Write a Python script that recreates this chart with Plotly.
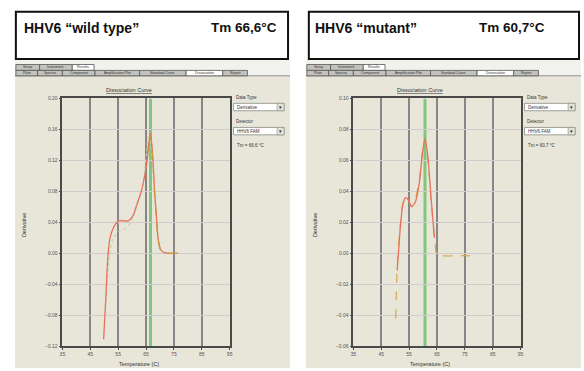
import plotly.graph_objects as go

W, H = 584, 371

# ---- melt-curve data (temperature in °C, derivative -dF/dT) ----
wt_temp = [49.8, 50.6, 51.3, 52.1, 53.3, 55.1, 57.0, 58.7, 60.4, 61.6, 63.4, 64.8,
           65.5, 66.1, 66.6, 67.1, 67.6, 68.1, 68.7, 69.3, 70.2, 71.6, 74.0, 76.4]
wt_well_a = [-0.111, -0.056, -0.005, 0.020, 0.033, 0.042, 0.042, 0.042, 0.049, 0.062,
             0.081, 0.106, 0.123, 0.145, 0.155, 0.140, 0.113, 0.079, 0.049, 0.020,
             0.005, 0.001, 0.000, 0.000]
wt_well_b = [-0.108, -0.054, -0.006, 0.018, 0.031, 0.040, 0.041, 0.043, 0.050, 0.063,
             0.083, 0.108, 0.126, 0.148, 0.152, 0.137, 0.110, 0.077, 0.047, 0.019,
             0.005, 0.001, 0.000, 0.000]
wt_temp_c = [50.5, 51.2, 52.0, 53.0, 55.1, 57.5, 59.5, 61.0, 62.5, 64.0, 65.2, 65.8,
             66.4, 67.2, 68.0, 68.8, 69.6, 70.5, 72.0, 74.0]
wt_well_c = [-0.070, -0.030, 0.000, 0.018, 0.028, 0.032, 0.040, 0.054, 0.070, 0.092,
             0.130, 0.150, 0.148, 0.120, 0.080, 0.045, 0.015, 0.004, 0.001, 0.000]

mt_temp = [50.2, 50.4, 50.7, 51.3, 51.9, 52.7, 53.7, 54.6, 55.8, 57.2, 58.7, 59.8,
           60.7, 61.7, 62.9, 64.1, 64.9, 65.5, 67.0, 69.0, 71.0, 73.0, 75.0, 76.8]
mt_well_a = [-0.043, -0.028, -0.011, 0.004, 0.018, 0.031, 0.036, 0.035, 0.030, 0.033,
             0.046, 0.065, 0.074, 0.063, 0.035, 0.010, -0.001, -0.002, -0.0015, -0.0018,
             -0.0014, -0.0017, -0.0015, -0.0016]
mt_well_b = [-0.042, -0.027, -0.010, 0.006, 0.020, 0.032, 0.037, 0.035, 0.031, 0.035,
             0.048, 0.066, 0.073, 0.061, 0.034, 0.009, -0.001, -0.002, -0.0016, -0.0017,
             -0.0015, -0.0016, -0.0014, -0.0016]

tm_wt, tm_mt = 66.6, 60.7
wt_ticks_y = [-0.12, -0.08, -0.04, 0.00, 0.04, 0.08, 0.12, 0.16, 0.20]
mt_ticks_y = [-0.06, -0.04, -0.02, 0.00, 0.02, 0.04, 0.06, 0.08, 0.10]
x_ticks = [35, 45, 55, 65, 75, 85, 95]


def px(x):
    return x / W


def py(y):
    return 1 - y / H


def label(x, y, text, size, xanchor="center", color="#333333", family="Liberation Sans",
          bold=False, angle=0):
    font = dict(family=family, size=size, color=color)
    if bold:
        font["weight"] = "bold"
    return dict(x=px(x), y=py(y), xref="paper", yref="paper", text=text, showarrow=False,
                xanchor=xanchor, yanchor="middle", textangle=angle, borderpad=0, font=font)


fig = go.Figure()

# wild type panel (axes x/y)
fig.add_trace(go.Scatter(x=wt_temp_c, y=wt_well_c, mode="lines", xaxis="x", yaxis="y",
                         line=dict(color="#b9d9a2", width=1.2, dash="dot", shape="spline", smoothing=0.6)))
fig.add_trace(go.Scatter(x=wt_temp, y=wt_well_a, mode="lines", xaxis="x", yaxis="y",
                         line=dict(color="#e8715c", width=1.3, shape="spline", smoothing=0.6)))
fig.add_trace(go.Scatter(x=wt_temp[12:], y=wt_well_b[12:], mode="lines", xaxis="x", yaxis="y",
                         line=dict(color="#c99a3c", width=1.2, dash="dash", shape="spline", smoothing=0.6)))

# mutant panel (axes x2/y2)
fig.add_trace(go.Scatter(x=mt_temp, y=mt_well_b, mode="lines", xaxis="x2", yaxis="y2",
                         line=dict(color="#d9a84a", width=1.2, dash="dash", shape="spline", smoothing=0.6)))
fig.add_trace(go.Scatter(x=mt_temp[2:16], y=mt_well_a[2:16], mode="lines", xaxis="x2", yaxis="y2",
                         line=dict(color="#e8715c", width=1.3, shape="spline", smoothing=0.6)))

plot_x1 = (px(60), px(229))
plot_x2 = (px(354), px(523))
plot_y = (py(349), py(97))

axis_common = dict(showline=True, linecolor="#4a4a4a", linewidth=1.5, mirror=True,
                   ticks="outside", ticklen=2, tickcolor="#4a4a4a", zeroline=False,
                   tickfont=dict(family="Liberation Sans", size=5, color="#555555"))

xax = dict(axis_common, range=[35, 95], tickvals=x_ticks, showgrid=True,
           gridcolor="#8a8388", gridwidth=1.5)
yax_grid = dict(showgrid=True, gridcolor="#d4cacd", gridwidth=1)

shapes = []
annotations = []

panels = [
    dict(bg=(12, 290), box=(13, 288), plot=(60, 229), title="HHV6 “wild type”",
         tm_text="Tm 66,6°C", tm_val="Tm = 66.6 °C", tm_x=278, title_x=20,
         xa="x", ya="y", tm=tm_wt, yr=[-0.12, 0.20]),
    dict(bg=(306, 584), box=(309, 582), plot=(354, 523), title="HHV6 “mutant”",
         tm_text="Tm 60,7°C", tm_val="Tm = 60.7 °C", tm_x=549, title_x=314,
         xa="x2", ya="y2", tm=tm_mt, yr=[-0.06, 0.10]),
]

row1 = [("Setup", 0, 24), ("Instrument", 24, 57), ("Results", 57, 79)]
row2 = [("Plate", 0, 22), ("Spectra", 22, 47), ("Component", 47, 80),
        ("Amplification Plot", 80, 125), ("Standard Curve", 125, 172),
        ("Dissociation", 172, 209), ("Report", 209, 234)]

for p in panels:
    b0, b1 = p["bg"]
    # software window background
    shapes.append(dict(type="rect", xref="paper", yref="paper", x0=px(b0), x1=px(b1),
                       y0=0, y1=py(74), fillcolor="#e7e6d8", line=dict(width=0), layer="below"))
    shapes.append(dict(type="rect", xref="paper", yref="paper", x0=px(b0), x1=px(b1),
                       y0=py(74), y1=py(58), fillcolor="#f1f1ee", line=dict(width=0), layer="below"))
    shapes.append(dict(type="line", xref="paper", yref="paper", x0=px(b0), x1=px(b1),
                       y0=py(74), y1=py(74), line=dict(color="#8f8f8f", width=1)))

    # tab rows
    off = b0 + 1
    for rows, (t0, t1), sel_name in [(row1, (62.5, 68.5), "Results"), (row2, (68.5, 74), "Dissociation")]:
        for name, a, c in rows:
            sel = name == sel_name
            shapes.append(dict(type="rect", xref="paper", yref="paper", x0=px(off + a), x1=px(off + c),
                               y0=py(t1), y1=py(t0), fillcolor="#ffffff" if sel else "#c2c2be",
                               line=dict(color="#555555", width=0.8)))
            annotations.append(label(off + (a + c) / 2, (t0 + t1) / 2, name, 3.5))

    # heading box
    k0, k1 = p["box"]
    shapes.append(dict(type="rect", xref="paper", yref="paper", x0=px(k0), x1=px(k1),
                       y0=py(57), y1=py(9), fillcolor="#ffffff", line=dict(color="#111111", width=2)))
    annotations.append(label(p["title_x"], 25, p["title"], 14, "left", "#111111", bold=True))
    annotations.append(label(p["tm_x"], 25, p["tm_text"], 13.5, "right", "#111111", bold=True))

    # chart caption and axis titles
    l0, l1 = p["plot"]
    annotations.append(label(l0 + 67, 88, "<u>Dissociation Curve</u>", 5.5))
    annotations.append(label(l0 - 38, 226, "Derivative", 5.5, angle=-90))
    annotations.append(label(l0 + 77, 367, "Temperature (C)", 5.5))

    # side controls
    c0 = l1 + 4
    annotations.append(label(c0 + 1, 96, "Data Type", 4.5, "left"))
    annotations.append(label(c0 + 1, 120, "Detector", 4.5, "left"))
    for (t0, t1, text) in [(102, 109.5, "Derivative"), (126.5, 134, "HHV6 FAM")]:
        shapes.append(dict(type="rect", xref="paper", yref="paper", x0=px(c0), x1=px(c0 + 51),
                           y0=py(t1), y1=py(t0), fillcolor="#ffffff", line=dict(color="#8a8a86", width=0.8)))
        shapes.append(dict(type="rect", xref="paper", yref="paper", x0=px(c0 + 44), x1=px(c0 + 51),
                           y0=py(t1), y1=py(t0), fillcolor="#e4e3da", line=dict(color="#8a8a86", width=0.6)))
        annotations.append(label(c0 + 2, (t0 + t1) / 2, text, 4.5, "left"))
        annotations.append(label(c0 + 47.5, (t0 + t1) / 2, "▾", 5, family="DejaVu Sans", color="#222222"))
    annotations.append(label(c0 + 2, 145, p["tm_val"], 4.5, "left"))

    # Tm marker
    shapes.append(dict(type="line", xref=p["xa"], yref=p["ya"], x0=p["tm"], x1=p["tm"],
                       y0=p["yr"][0], y1=p["yr"][1], line=dict(color="#6fc06f", width=3), opacity=0.85,
                       layer="below"))

fig.update_layout(
    width=W, height=H, margin=dict(l=0, r=0, t=0, b=0),
    paper_bgcolor="#ffffff", plot_bgcolor="#ffffff", showlegend=False,
    xaxis=dict(xax, domain=list(plot_x1), anchor="y"),
    yaxis=dict(axis_common, **yax_grid, domain=list(plot_y), anchor="x", range=[-0.12, 0.20],
               tickvals=wt_ticks_y, tickformat=".2f"),
    xaxis2=dict(xax, domain=list(plot_x2), anchor="y2"),
    yaxis2=dict(axis_common, **yax_grid, domain=list(plot_y), anchor="x2", range=[-0.06, 0.10],
                tickvals=mt_ticks_y, tickformat=".2f"),
    shapes=shapes, annotations=annotations,
)

fig.write_html("out.html")
